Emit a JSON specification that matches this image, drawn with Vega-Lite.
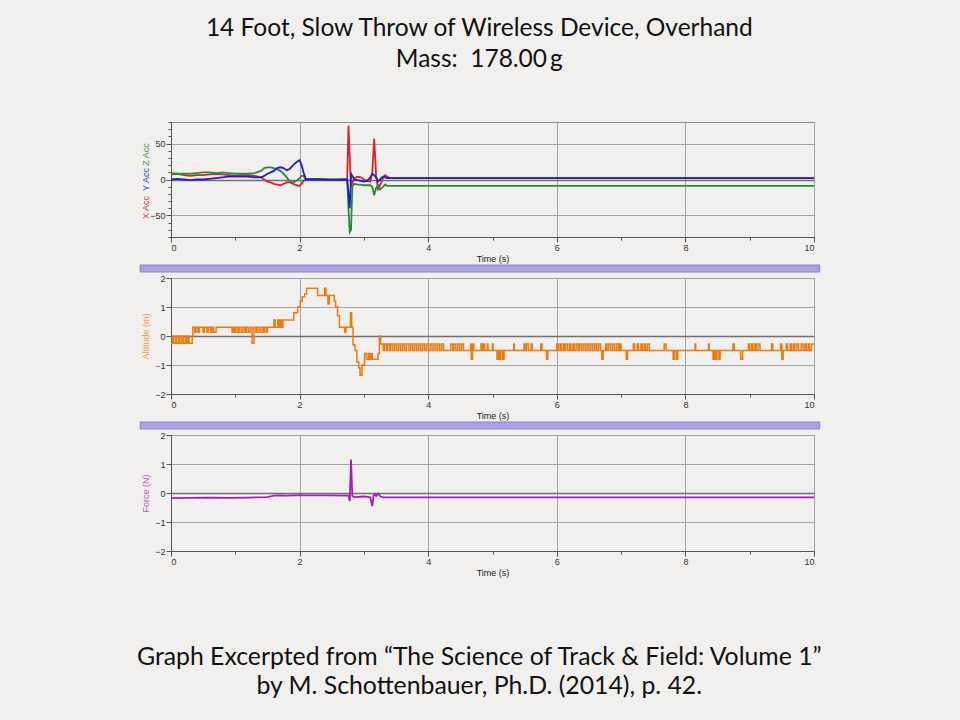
{
  "$schema": "https://vega.github.io/schema/vega-lite/v6.json",
  "background": "#f1f0ee",
  "padding": {"left": 135, "top": 15, "right": 145, "bottom": 20},
  "title": {
    "text": ["14 Foot, Slow Throw of Wireless Device, Overhand", "Mass:\u00a0 178.00\u2009g"],
    "font": "Lato", "fontSize": 24.5, "fontWeight": "normal", "color": "#111111",
    "lineHeight": 31, "anchor": "middle", "offset": 49
  },
  "spacing": 0,
  "datasets": {
    "bar": [{"start": -0.48, "end": 10.09}],
    "acc": [
      {"t": 0.00, "x": 7, "y": 0, "z": 9},
      {"t": 0.10, "x": 8, "y": 1, "z": 8},
      {"t": 0.20, "x": 6, "y": 0, "z": 8},
      {"t": 0.30, "x": 5, "y": -1, "z": 8},
      {"t": 0.40, "x": 6, "y": 0, "z": 9},
      {"t": 0.50, "x": 6, "y": 0, "z": 10},
      {"t": 0.60, "x": 7, "y": 1, "z": 10},
      {"t": 0.70, "x": 8, "y": 2, "z": 9},
      {"t": 0.80, "x": 7, "y": 3, "z": 10},
      {"t": 0.90, "x": 6, "y": 4, "z": 9},
      {"t": 1.00, "x": 5, "y": 4, "z": 8},
      {"t": 1.10, "x": 6, "y": 4, "z": 8},
      {"t": 1.20, "x": 6, "y": 4, "z": 8},
      {"t": 1.30, "x": 5, "y": 3, "z": 9},
      {"t": 1.40, "x": 3, "y": 3, "z": 12},
      {"t": 1.45, "x": 0, "y": 5, "z": 16},
      {"t": 1.50, "x": -3, "y": 8, "z": 17},
      {"t": 1.55, "x": -4, "y": 10, "z": 17},
      {"t": 1.60, "x": -6, "y": 12, "z": 16},
      {"t": 1.65, "x": -7, "y": 16, "z": 14},
      {"t": 1.70, "x": -8, "y": 17, "z": 12},
      {"t": 1.75, "x": -6, "y": 16, "z": 8},
      {"t": 1.80, "x": -4, "y": 13, "z": 3},
      {"t": 1.85, "x": -4, "y": 15, "z": -3},
      {"t": 1.90, "x": -6, "y": 20, "z": -4},
      {"t": 1.95, "x": -8, "y": 24, "z": -2},
      {"t": 2.00, "x": -9, "y": 27, "z": 2},
      {"t": 2.03, "x": -6, "y": 20, "z": 5},
      {"t": 2.06, "x": -2, "y": 10, "z": 5},
      {"t": 2.10, "x": 0, "y": 0, "z": 0},
      {"t": 2.30, "x": 1, "y": 0, "z": 0},
      {"t": 2.50, "x": 0, "y": -1, "z": 0},
      {"t": 2.74, "x": 0, "y": 0, "z": 0},
      {"t": 2.76, "x": 75, "y": -20, "z": -40},
      {"t": 2.78, "x": 30, "y": -40, "z": -73},
      {"t": 2.80, "x": -10, "y": 8, "z": -70},
      {"t": 2.82, "x": -5, "y": 5, "z": -10},
      {"t": 2.85, "x": 2, "y": 0, "z": -6},
      {"t": 2.90, "x": 4, "y": -1, "z": -7},
      {"t": 2.95, "x": 3, "y": -2, "z": -7},
      {"t": 3.00, "x": 0, "y": -3, "z": -8},
      {"t": 3.05, "x": -2, "y": -2, "z": -8},
      {"t": 3.10, "x": -3, "y": 3, "z": -8},
      {"t": 3.13, "x": 10, "y": 8, "z": -10},
      {"t": 3.16, "x": 57, "y": 6, "z": -22},
      {"t": 3.19, "x": 5, "y": 3, "z": -12},
      {"t": 3.22, "x": -13, "y": -3, "z": -8},
      {"t": 3.25, "x": -8, "y": 0, "z": -14},
      {"t": 3.30, "x": 3, "y": 4, "z": -10},
      {"t": 3.33, "x": 6, "y": 3, "z": -7},
      {"t": 3.36, "x": 4, "y": 2, "z": -9},
      {"t": 3.40, "x": 2, "y": 2, "z": -9},
      {"t": 10.0, "x": 2, "y": 2, "z": -9}
    ],
    "alt": [
      {"t": 0.00, "v": -0.25}, {"t": 0.02, "v": 0}, {"t": 0.04, "v": -0.25}, {"t": 0.07, "v": 0},
      {"t": 0.09, "v": -0.25}, {"t": 0.12, "v": 0}, {"t": 0.14, "v": -0.25}, {"t": 0.17, "v": 0},
      {"t": 0.19, "v": -0.25}, {"t": 0.22, "v": 0}, {"t": 0.24, "v": -0.25}, {"t": 0.26, "v": 0},
      {"t": 0.28, "v": -0.25}, {"t": 0.33, "v": 0}, {"t": 0.34, "v": 0.3}, {"t": 0.37, "v": 0.13},
      {"t": 0.39, "v": 0.3}, {"t": 0.42, "v": 0.13}, {"t": 0.44, "v": 0.3}, {"t": 0.50, "v": 0.13},
      {"t": 0.52, "v": 0.3}, {"t": 0.56, "v": 0.13}, {"t": 0.58, "v": 0.3}, {"t": 0.62, "v": 0.13},
      {"t": 0.64, "v": 0.3}, {"t": 0.66, "v": 0.13}, {"t": 0.70, "v": 0.3}, {"t": 0.95, "v": 0.13},
      {"t": 0.97, "v": 0.3}, {"t": 0.99, "v": 0.13}, {"t": 1.01, "v": 0.3}, {"t": 1.04, "v": 0.13},
      {"t": 1.06, "v": 0.3}, {"t": 1.09, "v": 0.13}, {"t": 1.12, "v": 0.3}, {"t": 1.15, "v": 0.13},
      {"t": 1.17, "v": 0.3}, {"t": 1.20, "v": 0.13}, {"t": 1.23, "v": 0.3}, {"t": 1.26, "v": -0.25},
      {"t": 1.29, "v": 0.3}, {"t": 1.32, "v": 0.13}, {"t": 1.34, "v": 0.3}, {"t": 1.37, "v": 0.13},
      {"t": 1.40, "v": 0.3}, {"t": 1.43, "v": 0.13}, {"t": 1.45, "v": 0.3}, {"t": 1.48, "v": 0.13},
      {"t": 1.50, "v": 0.3}, {"t": 1.60, "v": 0.55}, {"t": 1.62, "v": 0.3}, {"t": 1.66, "v": 0.55},
      {"t": 1.68, "v": 0.3}, {"t": 1.70, "v": 0.55}, {"t": 1.72, "v": 0.3}, {"t": 1.74, "v": 0.55},
      {"t": 1.91, "v": 0.8}, {"t": 1.97, "v": 1.0}, {"t": 2.01, "v": 1.2}, {"t": 2.04, "v": 1.35},
      {"t": 2.08, "v": 1.45}, {"t": 2.11, "v": 1.65}, {"t": 2.28, "v": 1.4}, {"t": 2.39, "v": 1.65},
      {"t": 2.41, "v": 1.4}, {"t": 2.44, "v": 1.1}, {"t": 2.46, "v": 1.4}, {"t": 2.54, "v": 1.2},
      {"t": 2.56, "v": 1.0}, {"t": 2.59, "v": 0.7}, {"t": 2.62, "v": 0.3}, {"t": 2.70, "v": 0.13},
      {"t": 2.72, "v": 0.3}, {"t": 2.79, "v": 0.8}, {"t": 2.81, "v": 0.3}, {"t": 2.83, "v": -0.3},
      {"t": 2.86, "v": -0.5}, {"t": 2.89, "v": -0.9}, {"t": 2.92, "v": -1.1}, {"t": 2.94, "v": -1.35},
      {"t": 2.97, "v": -1.0}, {"t": 3.01, "v": -0.6}, {"t": 3.04, "v": -0.8}, {"t": 3.07, "v": -0.6},
      {"t": 3.09, "v": -0.8}, {"t": 3.11, "v": -0.6}, {"t": 3.13, "v": -0.8}, {"t": 3.22, "v": -0.6},
      {"t": 3.24, "v": 0.0}, {"t": 3.26, "v": -0.28}, {"t": 3.30, "v": -0.5}, {"t": 3.32, "v": -0.28},
      {"t": 3.35, "v": -0.5}, {"t": 3.37, "v": -0.28}, {"t": 3.40, "v": -0.5}, {"t": 3.42, "v": -0.28},
      {"t": 3.45, "v": -0.5}, {"t": 3.48, "v": -0.28}, {"t": 3.51, "v": -0.5}, {"t": 3.54, "v": -0.28},
      {"t": 3.57, "v": -0.5}, {"t": 3.60, "v": -0.28}, {"t": 3.63, "v": -0.5}, {"t": 3.66, "v": -0.28},
      {"t": 3.70, "v": -0.5}, {"t": 3.73, "v": -0.28}, {"t": 3.76, "v": -0.5}, {"t": 3.79, "v": -0.28},
      {"t": 3.82, "v": -0.5}, {"t": 3.85, "v": -0.28}, {"t": 3.88, "v": -0.5}, {"t": 3.91, "v": -0.28},
      {"t": 3.94, "v": -0.5}, {"t": 3.97, "v": -0.28}, {"t": 4.00, "v": -0.5}, {"t": 4.03, "v": -0.28},
      {"t": 4.06, "v": -0.5}, {"t": 4.09, "v": -0.28}, {"t": 4.12, "v": -0.5}, {"t": 4.15, "v": -0.28},
      {"t": 4.18, "v": -0.5}, {"t": 4.21, "v": -0.28}, {"t": 4.24, "v": -0.5}, {"t": 4.35, "v": -0.28},
      {"t": 4.38, "v": -0.5}, {"t": 4.40, "v": -0.28}, {"t": 4.43, "v": -0.5}, {"t": 4.46, "v": -0.28},
      {"t": 4.49, "v": -0.5}, {"t": 4.52, "v": -0.28}, {"t": 4.55, "v": -0.5}, {"t": 4.66, "v": -0.28},
      {"t": 4.67, "v": -0.8}, {"t": 4.69, "v": -0.28}, {"t": 4.71, "v": -0.5}, {"t": 4.82, "v": -0.28},
      {"t": 4.84, "v": -0.5}, {"t": 4.86, "v": -0.28}, {"t": 4.88, "v": -0.5}, {"t": 4.92, "v": -0.28},
      {"t": 4.93, "v": -0.5}, {"t": 5.00, "v": -0.28}, {"t": 5.01, "v": -0.5}, {"t": 5.07, "v": -0.8},
      {"t": 5.09, "v": -0.5}, {"t": 5.11, "v": -0.8}, {"t": 5.13, "v": -0.5}, {"t": 5.16, "v": -0.8},
      {"t": 5.18, "v": -0.5}, {"t": 5.33, "v": -0.28}, {"t": 5.34, "v": -0.5}, {"t": 5.49, "v": -0.28},
      {"t": 5.51, "v": -0.5}, {"t": 5.53, "v": -0.28}, {"t": 5.56, "v": -0.5}, {"t": 5.60, "v": -0.28},
      {"t": 5.62, "v": -0.5}, {"t": 5.75, "v": -0.28}, {"t": 5.77, "v": -0.5}, {"t": 5.84, "v": -0.8},
      {"t": 5.86, "v": -0.5}, {"t": 6.00, "v": -0.28}, {"t": 6.02, "v": -0.5}, {"t": 6.05, "v": -0.28},
      {"t": 6.07, "v": -0.5}, {"t": 6.10, "v": -0.28}, {"t": 6.12, "v": -0.5}, {"t": 6.14, "v": -0.28},
      {"t": 6.17, "v": -0.5}, {"t": 6.20, "v": -0.28}, {"t": 6.22, "v": -0.5}, {"t": 6.25, "v": -0.28},
      {"t": 6.27, "v": -0.5}, {"t": 6.30, "v": -0.28}, {"t": 6.33, "v": -0.5}, {"t": 6.35, "v": -0.28},
      {"t": 6.38, "v": -0.5}, {"t": 6.41, "v": -0.28}, {"t": 6.44, "v": -0.5}, {"t": 6.47, "v": -0.28},
      {"t": 6.50, "v": -0.5}, {"t": 6.53, "v": -0.28}, {"t": 6.56, "v": -0.5}, {"t": 6.59, "v": -0.28},
      {"t": 6.62, "v": -0.5}, {"t": 6.65, "v": -0.28}, {"t": 6.68, "v": -0.5}, {"t": 6.70, "v": -0.8},
      {"t": 6.72, "v": -0.5}, {"t": 6.76, "v": -0.28}, {"t": 6.78, "v": -0.5}, {"t": 6.81, "v": -0.28},
      {"t": 6.84, "v": -0.5}, {"t": 6.87, "v": -0.28}, {"t": 6.90, "v": -0.5}, {"t": 6.93, "v": -0.28},
      {"t": 6.96, "v": -0.5}, {"t": 6.98, "v": -0.28}, {"t": 7.00, "v": -0.5}, {"t": 7.08, "v": -0.8},
      {"t": 7.10, "v": -0.5}, {"t": 7.19, "v": -0.28}, {"t": 7.21, "v": -0.5}, {"t": 7.25, "v": -0.28},
      {"t": 7.27, "v": -0.5}, {"t": 7.31, "v": -0.28}, {"t": 7.33, "v": -0.5}, {"t": 7.36, "v": -0.28},
      {"t": 7.38, "v": -0.5}, {"t": 7.41, "v": -0.28}, {"t": 7.44, "v": -0.5}, {"t": 7.67, "v": -0.28},
      {"t": 7.70, "v": -0.5}, {"t": 7.81, "v": -0.8}, {"t": 7.83, "v": -0.5}, {"t": 7.86, "v": -0.8},
      {"t": 7.88, "v": -0.5}, {"t": 8.15, "v": -0.28}, {"t": 8.16, "v": -0.5}, {"t": 8.36, "v": -0.28},
      {"t": 8.37, "v": -0.5}, {"t": 8.43, "v": -0.8}, {"t": 8.45, "v": -0.5}, {"t": 8.47, "v": -0.8},
      {"t": 8.49, "v": -0.5}, {"t": 8.52, "v": -0.8}, {"t": 8.54, "v": -0.5}, {"t": 8.74, "v": -0.28},
      {"t": 8.76, "v": -0.5}, {"t": 8.86, "v": -0.8}, {"t": 8.89, "v": -0.5}, {"t": 8.98, "v": -0.28},
      {"t": 9.00, "v": -0.5}, {"t": 9.03, "v": -0.28}, {"t": 9.05, "v": -0.5}, {"t": 9.08, "v": -0.28},
      {"t": 9.10, "v": -0.5}, {"t": 9.13, "v": -0.28}, {"t": 9.16, "v": -0.5}, {"t": 9.34, "v": -0.28},
      {"t": 9.36, "v": -0.5}, {"t": 9.48, "v": -0.28}, {"t": 9.50, "v": -0.8}, {"t": 9.52, "v": -0.5},
      {"t": 9.57, "v": -0.28}, {"t": 9.59, "v": -0.5}, {"t": 9.63, "v": -0.28}, {"t": 9.65, "v": -0.5},
      {"t": 9.68, "v": -0.28}, {"t": 9.70, "v": -0.5}, {"t": 9.73, "v": -0.28}, {"t": 9.76, "v": -0.5},
      {"t": 9.80, "v": -0.28}, {"t": 9.83, "v": -0.5}, {"t": 9.86, "v": -0.28}, {"t": 9.88, "v": -0.5},
      {"t": 9.91, "v": -0.28}, {"t": 9.93, "v": -0.5}, {"t": 9.96, "v": -0.28}, {"t": 10.0, "v": -0.28}
    ],
    "force": [
      {"t": 0.0, "v": -0.18}, {"t": 0.3, "v": -0.17}, {"t": 0.6, "v": -0.16}, {"t": 0.9, "v": -0.17},
      {"t": 1.2, "v": -0.16}, {"t": 1.5, "v": -0.14}, {"t": 1.6, "v": -0.09}, {"t": 1.7, "v": -0.08},
      {"t": 1.8, "v": -0.09}, {"t": 1.9, "v": -0.08}, {"t": 2.0, "v": -0.07}, {"t": 2.1, "v": -0.08},
      {"t": 2.5, "v": -0.08}, {"t": 2.76, "v": -0.09}, {"t": 2.78, "v": -0.28}, {"t": 2.80, "v": 1.15},
      {"t": 2.82, "v": -0.1}, {"t": 2.85, "v": -0.14}, {"t": 3.0, "v": -0.12}, {"t": 3.1, "v": -0.15},
      {"t": 3.13, "v": -0.45}, {"t": 3.15, "v": -0.1}, {"t": 3.17, "v": -0.03}, {"t": 3.19, "v": -0.1},
      {"t": 3.22, "v": -0.02}, {"t": 3.26, "v": -0.12}, {"t": 3.3, "v": -0.15}, {"t": 4.0, "v": -0.15},
      {"t": 6.0, "v": -0.15}, {"t": 8.0, "v": -0.15}, {"t": 10.0, "v": -0.15}
    ]
  },
  "vconcat": [
    {
      "width": 643,
      "height": 115,
      "data": {"name": "acc"},
      "encoding": {
        "x": {
          "field": "t", "type": "quantitative",
          "scale": {"domain": [0, 10], "nice": false},
          "axis": {
            "title": "Time (s)", "format": "d",
            "values": [0, 1, 2, 3, 4, 5, 6, 7, 8, 9, 10],
            "labelExpr": "datum.value % 2 === 0 ? datum.label : ''",
            "gridOpacity": {"condition": {"test": "datum.value % 2 === 0", "value": 1}, "value": 0},
            "tickSize": {"condition": {"test": "datum.value % 2 === 0", "value": 5}, "value": 3}
          }
        }
      },
      "layer": [
        {
          "mark": {"type": "line", "color": "#e0202e", "strokeWidth": 1.8},
          "encoding": {
            "y": {
              "field": "x", "type": "quantitative",
              "scale": {"domain": [-80, 80], "nice": false},
              "axis": {
                "orient": "left", "format": "d",
                "title": "X Acc", "titleColor": "#e6334d", "titleX": -21, "titleY": 85,
                "values": [-80, -70, -60, -50, -40, -30, -20, -10, 0, 10, 20, 30, 40, 50, 60, 70, 80],
                "labelExpr": "datum.value % 50 === 0 ? datum.label : ''",
                "gridOpacity": {"condition": {"test": "datum.value % 50 === 0", "value": 1}, "value": 0},
                "gridColor": {"condition": {"test": "datum.value === 0", "value": "#707070"}, "value": "#a3a3a3"},
                "gridWidth": {"condition": {"test": "datum.value === 0", "value": 1.6}, "value": 1},
                "tickSize": {"condition": {"test": "datum.value % 50 === 0", "value": 5}, "value": 3}
              }
            }
          }
        },
        {
          "mark": {"type": "line", "color": "#2a8a3a", "strokeWidth": 1.8},
          "encoding": {
            "y": {
              "field": "z", "type": "quantitative",
              "scale": {"domain": [-80, 80], "nice": false},
              "axis": {
                "orient": "left", "title": "Z Acc", "titleColor": "#3a9a4a", "titleX": -21, "titleY": 32,
                "labels": false, "ticks": false, "domain": false, "grid": false
              }
            }
          }
        },
        {
          "mark": {"type": "line", "color": "#1f1fc8", "strokeWidth": 1.8},
          "encoding": {
            "y": {
              "field": "y", "type": "quantitative",
              "scale": {"domain": [-80, 80], "nice": false},
              "axis": {
                "orient": "left", "title": "Y Acc", "titleColor": "#3a3ad0", "titleX": -21, "titleY": 57,
                "labels": false, "ticks": false, "domain": false, "grid": false
              }
            }
          }
        }
      ],
      "resolve": {"scale": {"y": "independent"}, "axis": {"y": "independent"}}
    },
    {
      "width": 643,
      "height": 7,
      "data": {"name": "bar"},
      "view": {"stroke": null},
      "mark": {"type": "rect", "fill": "#aaa2e0", "stroke": "#8a82c8", "strokeWidth": 1},
      "encoding": {
        "x": {"field": "start", "type": "quantitative", "scale": {"domain": [0, 10], "nice": false}, "axis": null},
        "x2": {"field": "end"}
      }
    },
    {
      "width": 643,
      "height": 116,
      "data": {"name": "alt"},
      "mark": {"type": "line", "color": "#ea7a12", "strokeWidth": 1.5, "interpolate": "step-after"},
      "encoding": {
        "x": {
          "field": "t", "type": "quantitative",
          "scale": {"domain": [0, 10], "nice": false},
          "axis": {
            "title": "Time (s)", "format": "d",
            "values": [0, 1, 2, 3, 4, 5, 6, 7, 8, 9, 10],
            "labelExpr": "datum.value % 2 === 0 ? datum.label : ''",
            "gridOpacity": {"condition": {"test": "datum.value % 2 === 0", "value": 1}, "value": 0},
            "tickSize": {"condition": {"test": "datum.value % 2 === 0", "value": 5}, "value": 3}
          }
        },
        "y": {
          "field": "v", "type": "quantitative",
          "scale": {"domain": [-2, 2], "nice": false},
          "axis": {
            "title": "Altitude (m)", "titleColor": "#ee9a45", "titleX": -21, "format": "d",
            "values": [-2, -1.75, -1.5, -1.25, -1, -0.75, -0.5, -0.25, 0, 0.25, 0.5, 0.75, 1, 1.25, 1.5, 1.75, 2],
            "labelExpr": "datum.value % 1 === 0 ? datum.label : ''",
            "gridOpacity": {"condition": {"test": "datum.value % 1 === 0", "value": 1}, "value": 0},
            "gridColor": {"condition": {"test": "datum.value === 0", "value": "#707070"}, "value": "#a3a3a3"},
            "gridWidth": {"condition": {"test": "datum.value === 0", "value": 1.6}, "value": 1},
            "tickSize": {"condition": {"test": "datum.value % 1 === 0", "value": 5}, "value": 3}
          }
        }
      }
    },
    {
      "width": 643,
      "height": 7,
      "data": {"name": "bar"},
      "view": {"stroke": null},
      "mark": {"type": "rect", "fill": "#aaa2e0", "stroke": "#8a82c8", "strokeWidth": 1},
      "encoding": {
        "x": {"field": "start", "type": "quantitative", "scale": {"domain": [0, 10], "nice": false}, "axis": null},
        "x2": {"field": "end"}
      }
    },
    {
      "width": 643,
      "height": 116,
      "data": {"name": "force"},
      "title": {
        "text": ["Graph Excerpted from \u201cThe Science of Track & Field: Volume 1\u201d", "by M. Schottenbauer, Ph.D. (2014), p. 42."],
        "orient": "bottom", "frame": "bounds", "anchor": "middle",
        "font": "Lato", "fontSize": 24.8, "fontWeight": "normal", "color": "#111111",
        "lineHeight": 29, "offset": 68
      },
      "mark": {"type": "line", "color": "#a51dc1", "strokeWidth": 1.8},
      "encoding": {
        "x": {
          "field": "t", "type": "quantitative",
          "scale": {"domain": [0, 10], "nice": false},
          "axis": {
            "title": "Time (s)", "format": "d",
            "values": [0, 1, 2, 3, 4, 5, 6, 7, 8, 9, 10],
            "labelExpr": "datum.value % 2 === 0 ? datum.label : ''",
            "gridOpacity": {"condition": {"test": "datum.value % 2 === 0", "value": 1}, "value": 0},
            "tickSize": {"condition": {"test": "datum.value % 2 === 0", "value": 5}, "value": 3}
          }
        },
        "y": {
          "field": "v", "type": "quantitative",
          "scale": {"domain": [-2, 2], "nice": false},
          "axis": {
            "title": "Force (N)", "titleColor": "#c050d0", "titleX": -21, "format": "d",
            "values": [-2, -1.75, -1.5, -1.25, -1, -0.75, -0.5, -0.25, 0, 0.25, 0.5, 0.75, 1, 1.25, 1.5, 1.75, 2],
            "labelExpr": "datum.value % 1 === 0 ? datum.label : ''",
            "gridOpacity": {"condition": {"test": "datum.value % 1 === 0", "value": 1}, "value": 0},
            "gridColor": {"condition": {"test": "datum.value === 0", "value": "#707070"}, "value": "#a3a3a3"},
            "gridWidth": {"condition": {"test": "datum.value === 0", "value": 1.6}, "value": 1},
            "tickSize": {"condition": {"test": "datum.value % 1 === 0", "value": 5}, "value": 3}
          }
        }
      }
    }
  ],
  "config": {
    "view": {"stroke": "#8c8c8c"},
    "axis": {
      "labelFont": "Liberation Sans", "labelFontSize": 9, "labelColor": "#333333", "labelPadding": 1,
      "titleFont": "Liberation Sans", "titleFontSize": 9, "titleFontWeight": "normal", "titleColor": "#222222",
      "titlePadding": 2, "domainColor": "#555555", "tickColor": "#555555", "gridColor": "#a3a3a3"
    }
  }
}
